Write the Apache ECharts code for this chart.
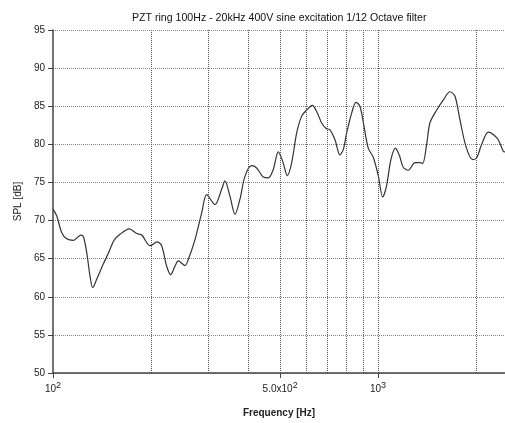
<!DOCTYPE html>
<html><head><meta charset="utf-8">
<script src="https://cdn.jsdelivr.net/npm/echarts@6/dist/echarts.min.js"></script>
<style>html,body{margin:0;padding:0;background:#fff}#c{width:505px;height:423px}</style>
</head><body><div id="c"></div>
<script>
const titleText = 'PZT ring 100Hz - 20kHz 400V sine excitation 1/12 Octave filter';
const xName = 'Frequency [Hz]';
const yName = 'SPL [dB]';
const freqHz = [100,102.7,106.4,110.2,115.5,118.3,121.7,124.0,127.0,130.0,132.5,136.3,142.8,148.0,154.1,160.8,171.7,180.9,187.5,198.8,209.4,216.0,223.8,230.2,237.3,242.9,254.7,260.8,273.5,286.8,297.1,315.1,330.4,338.2,350.4,363.1,376.1,389.7,408.6,423.4,443.7,459.7,476.3,493.4,509.0,526.0,542.7,562.2,582.5,603.5,627.9,647.8,671.1,691.8,711.7,737.4,764.0,782.0,801.1,829.9,855.6,880.2,905.5,933.6,967.2,1002,1034,1062,1096,1132,1165,1196,1240,1300,1347,1373,1412,1445,1516,1588,1666,1726,1788,1866,1956,2012,2085,2185,2263,2345,2430,2460];
const splDb = [71.5,70.6,68.4,67.6,67.4,67.7,68.1,67.9,65.8,62.7,61.2,62.3,64.3,65.7,67.4,68.2,68.9,68.3,68.1,66.7,67.2,66.7,64.0,62.9,64.0,64.7,64.1,64.9,67.5,71.0,73.4,72.1,74.1,75.2,73.2,70.8,72.8,75.8,77.2,76.9,75.7,75.6,76.7,79.0,77.8,75.9,77.6,81.5,83.7,84.5,85.1,84.3,82.8,82.1,81.9,80.6,78.6,79.3,81.5,84.1,85.5,85.0,82.4,79.5,78.3,75.9,73.1,74.5,78.0,79.5,78.5,77.0,76.6,77.6,77.6,77.5,80.0,82.8,84.5,85.8,86.9,86.3,83.2,79.7,78.0,78.2,80.0,81.6,81.3,80.6,79.1,79.0];
const xGridValues = [200,300,400,500,600,700,800,900,1000,2000];
const xLabelValues = [100,500,1000];
const xLabelText = {100:'{b|10}{s|2}', 500:'{b|5.0x10}{s|2}', 1000:'{b|10}{s|3}'};
const xMin = 100, xMax = 2460;
const yMin = 50, yMax = 95, yStep = 5;

const chart = echarts.init(document.getElementById('c'), null, {renderer:'canvas'});
const font = 'Liberation Sans, Arial, sans-serif';
chart.setOption({
  animation:false,
  backgroundColor:'#fff',
  title:{text:titleText,left:127,top:8,textStyle:{fontFamily:font,fontSize:10.6,fontWeight:'normal',color:'#111'}},
  grid:{left:53,top:30,right:0,bottom:49,containLabel:false},
  xAxis:{type:'log',logBase:10,min:xMin,max:xMax,
    name:xName,nameLocation:'middle',nameGap:35,
    nameTextStyle:{fontFamily:font,fontSize:10,fontWeight:'bold',color:'#222'},
    axisLine:{lineStyle:{color:'#444',width:1.5}},
    axisTick:{show:true,customValues:xLabelValues,length:5,lineStyle:{color:'#444'}},
    axisLabel:{customValues:xLabelValues,margin:8,formatter:v=>xLabelText[Math.round(v)]||'',
      rich:{b:{fontFamily:font,fontSize:10,color:'#222'},s:{fontFamily:font,fontSize:9,color:'#222',padding:[0,0,8,0]}}},
    splitLine:{show:false},minorTick:{show:false}},
  yAxis:{type:'value',min:yMin,max:yMax,interval:yStep,
    name:yName,nameLocation:'middle',nameGap:28,nameRotate:90,
    nameTextStyle:{fontFamily:font,fontSize:10,color:'#222'},
    axisLine:{show:true,lineStyle:{color:'#444',width:1.5}},
    axisTick:{show:true,length:5,lineStyle:{color:'#444'}},
    axisLabel:{fontFamily:font,fontSize:10,color:'#222',margin:8},
    splitLine:{show:true,lineStyle:{color:'#888',type:'dotted',width:1}}},
  series:[{type:'line',data:freqHz.map((f,i)=>[f,splDb[i]]),showSymbol:false,smooth:0.3,
    lineStyle:{color:'#333',width:1.2},
    markLine:{silent:true,symbol:'none',label:{show:false},
      lineStyle:{color:'#555',type:'dotted',width:1},
      data:xGridValues.map(v=>({xAxis:v}))}}]
});
</script></body></html>
